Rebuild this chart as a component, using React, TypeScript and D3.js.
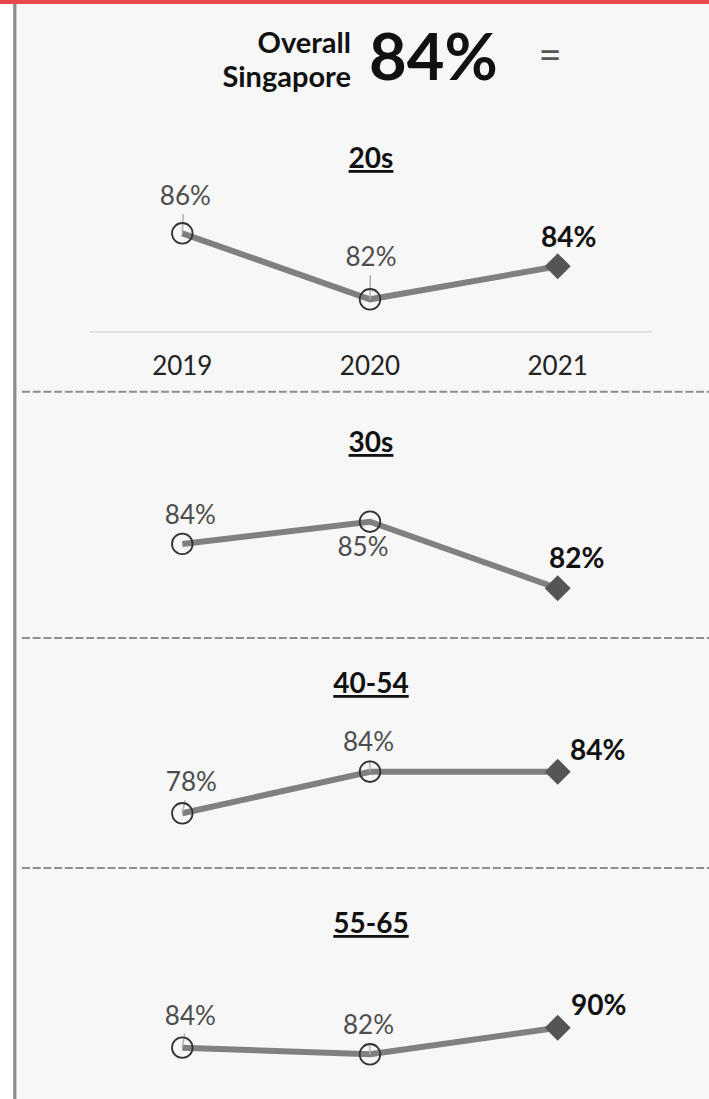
import React from 'react';
import * as d3 from 'd3';

const years = ['2019', '2020', '2021'];
const groups = ['20s', '30s', '40-54', '55-65'];
const values20s = [86, 82, 84];
const values30s = [84, 85, 82];
const values40to54 = [78, 84, 84];
const values55to65 = [84, 82, 90];
const overallValue = 84;
const overallTitle = ['Overall', 'Singapore'];
const overallChange = '=';

const seriesByGroup = [values20s, values30s, values40to54, values55to65];

// layout per panel (pixel positions and label offsets)
const panelLayout = [
  { title: 168, yBottom: 299.3, yTop: 233.3, sepY: 391.7,
    labels: [[3, -28, true], [1, -33, true], [11, -19.5, false]] },
  { title: 452, yBottom: 588.3, yTop: 521.7, sepY: 638,
    labels: [[8, -20, false], [-7, 34.6, false], [19, -20.5, false]] },
  { title: 693, yBottom: 813.3, yTop: 771.7, sepY: 868,
    labels: [[9, -22, true], [-1.5, -20.7, true], [40, -11.7, false]] },
  { title: 933, yBottom: 1054.3, yTop: 1027.7, sepY: null,
    labels: [[8, -23, true], [-1.5, -20, true], [41, -12.7, false]] },
];

const W = 709;
const H = 1099;
const FONT = "Lato, 'Noto Sans', sans-serif";

export default function App() {
  const x = d3.scalePoint<string>().domain(years).range([182.3, 557.7]).padding(0);
  const line = d3.line<[number, number]>().x((d) => d[0]).y((d) => d[1]);
  const fmt = (v: number) => `${d3.format('.0f')(v)}%`;

  return (
    <svg width={W} height={H} style={{ position: 'absolute', left: 0, top: 0, background: '#fff' }}>
      <rect x={16} y={0} width={W - 16} height={H} fill="#f7f7f7" />
      <line x1={14.8} x2={14.8} y1={0} y2={H} stroke="#8a8a8a" strokeWidth={3.2} />
      <rect x={0} y={0} width={W} height={4} fill="#e8474c" />

      {/* header */}
      <g fontFamily={FONT} fontWeight={700} fill="#111">
        <text x={351} y={53} fontSize={29} textAnchor="end">{overallTitle[0]}</text>
        <text x={351} y={86.7} fontSize={29} textAnchor="end">{overallTitle[1]}</text>
        <text x={369} y={80} fontSize={65}>{fmt(overallValue)}</text>
      </g>
      <text x={550} y={69} fontSize={40} fontFamily={FONT} fontWeight={400} fill="#555"
        textAnchor="middle">{overallChange}</text>

      {groups.map((g, gi) => {
        const vals = seriesByGroup[gi];
        const L = panelLayout[gi];
        const [lo, hi] = d3.extent(vals) as [number, number];
        const y = d3.scaleLinear().domain([lo, hi]).range([L.yBottom, L.yTop]);
        const pts: [number, number][] = vals.map((v, i) => [x(years[i]) as number, y(v)]);
        const last = vals.length - 1;
        return (
          <g key={g}>
            <text x={371} y={L.title} fontSize={28} fontWeight={700} fontFamily={FONT}
              textAnchor="middle" fill="#111" style={{ textDecoration: 'underline' }}>{g}</text>
            {gi === 0 && (
              <g>
                <line x1={90} x2={652} y1={331.7} y2={331.7} stroke="#dcdcdc" strokeWidth={1.5} />
                {years.map((yr) => (
                  <text key={yr} x={x(yr)} y={375} fontSize={26} fontFamily={FONT}
                    textAnchor="middle" fill="#222">{yr}</text>
                ))}
              </g>
            )}
            {L.sepY !== null && (
              <line x1={22} x2={W} y1={L.sepY} y2={L.sepY} stroke="#8f8f8f" strokeWidth={2}
                strokeDasharray="8,2.7" />
            )}
            <path d={line(pts) || ''} fill="none" stroke="#808080" strokeWidth={6} />
            {pts.map((p, i) => {
              const [dx, dy, leader] = L.labels[i] as [number, number, boolean];
              if (i === last) return null;
              return (
                <g key={i}>
                  {leader && (
                    <line x1={p[0] + dx * 0.3} y1={p[1] + dy + 9} x2={p[0]} y2={p[1]}
                      stroke="#b0b0b0" strokeWidth={1.5} />
                  )}
                  <circle cx={p[0]} cy={p[1]} r={10.3} fill="none" stroke="#333" strokeWidth={1.8} />
                </g>
              );
            })}
            {(() => {
              const p = pts[last];
              return (
                <path d={`M${p[0]},${p[1] - 13}L${p[0] + 13},${p[1]}L${p[0]},${p[1] + 13}L${p[0] - 13},${p[1]}Z`}
                  fill="#555" />
              );
            })()}
            {pts.map((p, i) => {
              const [dx, dy] = L.labels[i] as [number, number, boolean];
              const isLast = i === last;
              return (
                <text key={'l' + i} x={p[0] + dx} y={p[1] + dy} fontSize={isLast ? 28 : 26}
                  fontWeight={isLast ? 700 : 400} fontFamily={FONT} textAnchor="middle"
                  fill={isLast ? '#111' : '#4d4d4d'}>{fmt(vals[i])}</text>
              );
            })}
          </g>
        );
      })}
    </svg>
  );
}
